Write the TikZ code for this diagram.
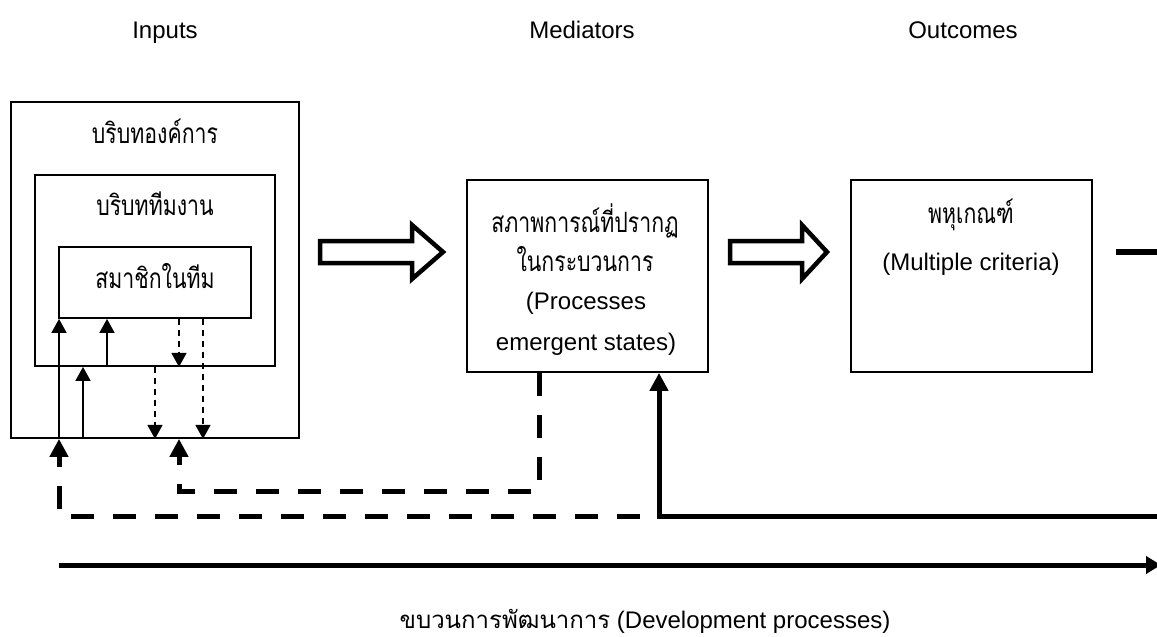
\documentclass[tikz,border=0pt]{standalone}
\usepackage{fontspec}
\setmainfont{Liberation Sans}
\newfontfamily\thaifont[Script=Thai, FakeStretch=0.76]{Loma}
\newfontfamily\thaiwide[Script=Thai]{Loma}
\usetikzlibrary{arrows.meta}
\begin{document}
\begin{tikzpicture}[x=1pt,y=-1pt,
  box/.style={draw, line width=1.8pt, inner sep=0pt},
  en/.style={font=\fontsize{24}{28}\selectfont, inner sep=0pt, anchor=base},
  th/.style={font=\thaifont\fontsize{28}{32}\selectfont, inner sep=0pt, anchor=base},
  thin tip/.style={-{Triangle[length=14pt,width=15pt]}},
  upline/.style={line width=1.6pt, thin tip},
  downline/.style={line width=1.6pt, dash pattern=on 6pt off 5pt, thin tip},
  thick tip/.style={-{Triangle[length=18pt,width=18pt]}},
  feedback/.style={line width=5pt, dash pattern=on 23pt off 19pt, thick tip},
  flow/.style={line width=5pt},
  hollow/.style={draw, line width=4.5pt, miter limit=10}
]
% page
\fill[white] (0,0) rectangle (1157,637);
\useasboundingbox (0,0) rectangle (1157,637);

% column headings
\node[en] (hin)  at (165,38) {Inputs};
\node[en] (hmed) at (582,38) {Mediators};
\node[en] (hout) at (963,38) {Outcomes};

% nested input boxes
\node[box, minimum width=288, minimum height=336] (org)  at (155,270)   {};
\node[box, minimum width=240, minimum height=191] (team) at (155,270.5) {};
\node[box, minimum width=192, minimum height=71]  (mem)  at (155,282.5) {};
\node[th] (orgL)  at (155,143) {บริบทองค์การ};
\node[th] (teamL) at (155,215) {บริบททีมงาน};
\node[th] (memL)  at (155,288) {สมาชิกในทีม};

% mediator and outcome boxes
\node[box, minimum width=241, minimum height=192] (med) at (587.5,276) {};
\node[box, minimum width=241, minimum height=192] (out) at (971.5,276) {};
\node[th] (medL1) at (585,232) {สภาพการณ์ที่ปรากฏ};
\node[th] (medL2) at (585,271) {ในกระบวนการ};
\node[en] (medL3) at (586,309) {(Processes};
\node[en] (medL4) at (586,350) {emergent states)};
\node[th] (outL1) at (971,223) {พหุเกณฑ์};
\node[en] (outL2) at (971,270) {(Multiple criteria)};

% links between the nested levels
\draw[upline]   (59,0 |- org.south)  -- (59,0 |- mem.south);
\draw[upline]   (83,0 |- org.south)  -- (83,0 |- team.south);
\draw[upline]   (107,0 |- team.south) -- (107,0 |- mem.south);
\draw[downline] (179,0 |- mem.south)  -- (179,0 |- team.south);
\draw[downline] (155,0 |- team.south) -- (155,0 |- org.south);
\draw[downline] (203,0 |- mem.south)  -- (203,0 |- org.south);

% hollow flow arrows
\draw[hollow] (320,241) -- (412,241) -- (412,225) -- (443,252) -- (412,279) -- (412,263) -- (320,263) -- cycle;
\draw[hollow] (730,241) -- (802,241) -- (802,225) -- (827,252) -- (802,279) -- (802,263) -- (730,263) -- cycle;

% feedback loops
\coordinate (j)   at (659,516);
\coordinate (rin) at (1165,516);
\draw[flow, thick tip] (rin) -- (j) -- (j |- med.south);
\draw[feedback, dash phase=23pt] (j) -- (59,516) -- (59,0 |- org.south);
\draw[feedback] (539,0 |- med.south) -- (539,491) -- (179,491) -- (179,0 |- org.south);

% outgoing stub from outcomes
\coordinate (os) at (1116,252);
\coordinate (oe) at (1165,252);
\draw[line width=5.5pt] (os) -- (oe);

% development time line
\coordinate (ds) at (59,565);
\coordinate (de) at (1161,565);
\draw[flow, -{Triangle[length=15pt,width=17pt]}] (ds) -- (de);
\node[en] (dev) at (645,628) {{\thaiwide ขบวนการพัฒนาการ} (Development processes)};
\end{tikzpicture}
\end{document}
